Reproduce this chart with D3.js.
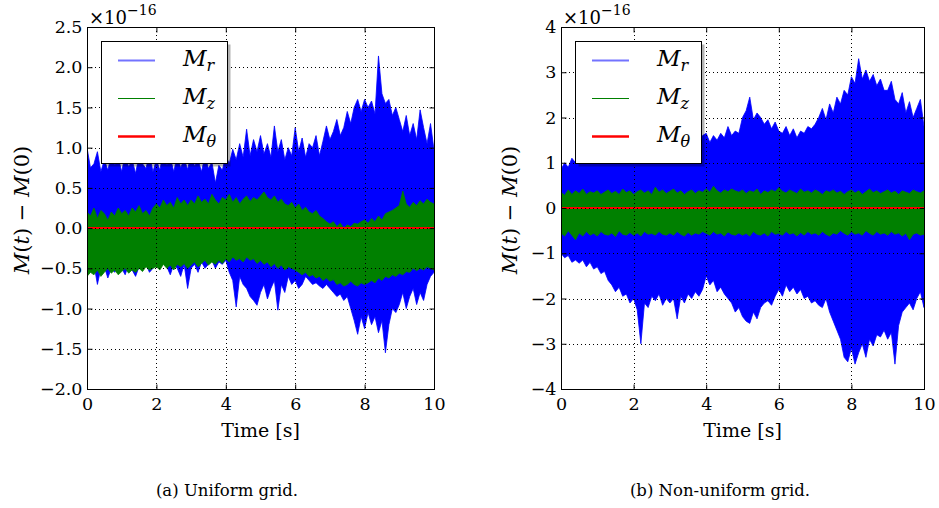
<!DOCTYPE html>
<html>
<head>
<meta charset="utf-8">
<script src="https://cdn.jsdelivr.net/npm/d3@7"></script>
<style>
  body { margin: 0; background: #fff; }
  svg { display: block; }
  text { font-family: "DejaVu Serif", serif; fill: #000; }
</style>
</head>
<body>
<div id="chart"></div>
<script>
// sampling instants (s), every 0.1 s
const times = d3.range(101).map(i => i / 10);

// (a) uniform grid -- envelopes, units of 1e-16
const mrHiA = [1.0,0.75,0.8,0.95,0.7,0.85,0.72,0.9,0.78,0.88,
  0.7,0.92,0.76,0.85,0.68,0.9,0.8,0.74,0.93,0.7,
  0.85,0.72,0.95,0.78,0.88,0.7,0.9,0.75,0.86,0.73,
  0.92,0.77,0.85,0.7,0.9,0.74,0.82,0.56,0.78,0.72,
  0.9,0.8,0.98,0.85,1.05,0.88,1.23,0.9,1.1,0.95,
  1.15,0.92,1.05,0.88,1.27,0.95,1.1,0.85,1.0,0.9,
  1.25,0.95,1.12,0.88,1.05,1.0,1.15,0.9,1.08,1.27,
  1.1,1.2,1.35,1.15,1.25,1.45,1.3,1.5,1.6,1.45,
  1.6,1.5,1.58,1.42,2.14,1.67,1.55,1.6,1.4,1.5,
  1.35,1.2,1.4,1.15,1.3,1.1,1.47,1.25,1.05,1.3,
  0.97];
const mrLoA = [-0.5,-0.55,-0.45,-0.7,-0.5,-0.48,-0.62,-0.5,-0.55,-0.45,
  -0.5,-0.58,-0.45,-0.52,-0.6,-0.48,-0.5,-0.45,-0.55,-0.5,
  -0.45,-0.5,-0.4,-0.48,-0.58,-0.45,-0.5,-0.6,-0.45,-0.75,
  -0.5,-0.45,-0.55,-0.42,-0.5,-0.45,-0.4,-0.5,-0.42,-0.45,
  -0.4,-0.55,-0.65,-0.98,-0.6,-0.7,-0.75,-0.85,-0.9,-0.96,
  -0.8,-0.7,-0.88,-0.75,-0.65,-1.02,-0.7,-0.8,-0.6,-0.7,
  -0.65,-0.75,-0.7,-0.6,-0.65,-0.7,-0.68,-0.72,-0.75,-0.7,
  -0.75,-0.8,-0.85,-0.82,-0.9,-0.85,-1.0,-1.15,-1.32,-1.1,
  -1.25,-1.05,-1.2,-1.1,-1.3,-1.15,-1.55,-1.2,-1.0,-1.05,
  -0.95,-0.8,-1.0,-0.85,-0.75,-0.95,-0.8,-0.9,-0.7,-0.6,
  -0.55];
const mzHiA = [0.2,0.15,0.25,0.12,0.22,0.18,0.1,0.2,0.15,0.25,
  0.18,0.22,0.15,0.25,0.2,0.28,0.18,0.22,0.15,0.25,
  0.3,0.25,0.35,0.28,0.32,0.25,0.38,0.3,0.35,0.28,
  0.35,0.3,0.4,0.32,0.36,0.3,0.42,0.35,0.3,0.38,
  0.35,0.42,0.32,0.38,0.3,0.36,0.4,0.33,0.38,0.35,
  0.4,0.45,0.38,0.35,0.4,0.32,0.36,0.3,0.28,0.32,
  0.25,0.3,0.22,0.26,0.2,0.18,0.22,0.15,0.12,0.08,
  0.05,0.08,0.02,0.06,0.0,0.04,0.02,0.06,0.05,0.08,
  0.1,0.06,0.12,0.08,0.15,0.1,0.18,0.2,0.22,0.25,
  0.28,0.46,0.3,0.26,0.32,0.28,0.34,0.3,0.36,0.32,
  0.3];
const mzLoA = [-0.6,-0.55,-0.58,-0.52,-0.6,-0.55,-0.5,-0.56,-0.52,-0.58,
  -0.54,-0.5,-0.56,-0.52,-0.55,-0.5,-0.54,-0.48,-0.52,-0.5,
  -0.48,-0.52,-0.45,-0.5,-0.46,-0.52,-0.45,-0.48,-0.44,-0.5,
  -0.46,-0.42,-0.48,-0.44,-0.4,-0.46,-0.42,-0.45,-0.4,-0.44,
  -0.38,-0.42,-0.36,-0.4,-0.38,-0.42,-0.36,-0.4,-0.38,-0.44,
  -0.4,-0.45,-0.42,-0.48,-0.44,-0.5,-0.46,-0.52,-0.48,-0.5,
  -0.52,-0.55,-0.58,-0.55,-0.6,-0.58,-0.62,-0.6,-0.65,-0.62,
  -0.66,-0.64,-0.7,-0.68,-0.72,-0.7,-0.66,-0.7,-0.72,-0.68,
  -0.7,-0.68,-0.65,-0.68,-0.62,-0.65,-0.6,-0.62,-0.58,-0.6,
  -0.56,-0.58,-0.54,-0.55,-0.5,-0.53,-0.5,-0.52,-0.48,-0.5,
  -0.52];

// (b) non-uniform grid
const mrHiB = [0.85,1.0,0.9,1.1,1.0,1.15,1.05,1.2,1.1,1.25,
  1.15,1.3,1.2,1.35,1.25,1.4,1.3,1.45,1.35,1.4,
  1.3,1.45,1.35,1.5,1.4,1.45,1.35,1.5,1.4,1.55,
  1.45,1.4,1.55,1.45,1.5,1.4,1.55,1.45,1.5,1.6,
  1.65,1.45,1.6,1.5,1.65,1.55,1.8,1.6,1.7,1.65,
  2.0,2.15,2.45,1.95,2.1,2.0,1.85,1.95,1.75,1.9,
  1.7,1.65,1.8,1.6,1.75,1.55,1.7,1.65,1.8,1.75,
  1.85,2.0,2.2,1.95,2.3,2.1,2.45,2.3,2.6,2.5,
  2.9,2.75,3.3,2.85,3.05,2.8,2.95,2.7,2.85,2.6,
  2.6,2.8,2.4,2.3,2.55,2.1,2.35,2.0,2.2,2.4,
  1.8];
const mrLoB = [-1.0,-1.1,-1.05,-1.2,-1.15,-1.22,-1.15,-1.3,-1.2,-1.35,
  -1.3,-1.45,-1.4,-1.6,-1.7,-1.85,-1.75,-1.95,-1.9,-2.1,
  -2.0,-2.25,-3.0,-2.1,-2.2,-1.95,-2.05,-1.9,-2.15,-2.0,
  -2.1,-2.0,-2.45,-1.95,-2.1,-1.9,-2.0,-1.85,-1.95,-1.8,
  -1.5,-1.7,-1.6,-1.85,-1.75,-1.9,-2.0,-2.1,-2.3,-2.2,
  -2.4,-2.5,-2.55,-2.3,-2.45,-2.2,-2.1,-2.05,-2.15,-1.95,
  -1.8,-1.95,-1.7,-1.85,-1.75,-1.9,-1.8,-2.0,-1.95,-2.1,
  -2.05,-2.15,-2.2,-2.0,-2.3,-2.5,-2.7,-2.9,-3.3,-3.4,
  -3.1,-3.45,-3.2,-3.0,-3.3,-2.9,-3.05,-2.8,-2.85,-2.7,
  -2.9,-2.75,-3.45,-2.6,-2.3,-2.2,-2.1,-2.25,-2.0,-1.85,
  -2.2];
const mzHiB = [0.35,0.28,0.4,0.3,0.38,0.32,0.42,0.3,0.36,0.33,
  0.38,0.3,0.35,0.4,0.32,0.37,0.3,0.42,0.34,0.38,
  0.3,0.36,0.4,0.33,0.38,0.3,0.46,0.35,0.4,0.32,
  0.37,0.42,0.33,0.38,0.3,0.36,0.4,0.32,0.38,0.35,
  0.42,0.35,0.48,0.38,0.33,0.4,0.36,0.42,0.38,0.35,
  0.4,0.32,0.38,0.35,0.42,0.3,0.38,0.34,0.4,0.36,
  0.45,0.37,0.33,0.4,0.36,0.32,0.42,0.35,0.38,0.33,
  0.4,0.36,0.3,0.38,0.35,0.4,0.33,0.37,0.3,0.36,
  0.4,0.33,0.38,0.3,0.36,0.42,0.34,0.38,0.32,0.36,
  0.4,0.33,0.37,0.3,0.38,0.35,0.32,0.4,0.36,0.33,
  0.38];
const mzLoB = [-0.55,-0.62,-0.5,-0.6,-0.7,-0.55,-0.62,-0.52,-0.6,-0.56,
  -0.62,-0.52,-0.58,-0.6,-0.55,-0.63,-0.5,-0.58,-0.6,-0.54,
  -0.6,-0.55,-0.62,-0.52,-0.58,-0.56,-0.6,-0.52,-0.58,-0.6,
  -0.55,-0.6,-0.52,-0.58,-0.62,-0.54,-0.6,-0.55,-0.58,-0.52,
  -0.56,-0.6,-0.52,-0.58,-0.55,-0.62,-0.53,-0.58,-0.6,-0.55,
  -0.6,-0.56,-0.62,-0.52,-0.58,-0.6,-0.55,-0.62,-0.52,-0.58,
  -0.56,-0.6,-0.52,-0.58,-0.55,-0.62,-0.54,-0.6,-0.52,-0.58,
  -0.55,-0.6,-0.52,-0.58,-0.62,-0.55,-0.58,-0.5,-0.56,-0.6,
  -0.52,-0.58,-0.55,-0.6,-0.5,-0.56,-0.6,-0.52,-0.58,-0.55,
  -0.6,-0.52,-0.58,-0.55,-0.62,-0.56,-0.7,-0.58,-0.55,-0.6,
  -0.58];

// M_theta stays at zero in both runs
const thetaTimes = [0, 10];
const thetaVals = [0, 0];

const xTicks = [0, 2, 4, 6, 8, 10];
const yTicksA = [-2.0, -1.5, -1.0, -0.5, 0.0, 0.5, 1.0, 1.5, 2.0, 2.5];
const yTicksB = [-4, -3, -2, -1, 0, 1, 2, 3, 4];
const legendNames = [["M", "r"], ["M", "z"], ["M", "\u03b8"]];
const legendColors = ["rgba(0,0,255,0.55)", "#008000", "#ff0000"];
const legendWidths = [2, 1, 2.5];

const width = 939, height = 508;
const plotTop = 27, plotBottom = 389;

const svg = d3.select("#chart").append("svg")
    .attr("width", width)
    .attr("height", height);

const panels = [
  { id: "a", left: 87, right: 434, domain: [-2, 2.5], ticks: yTicksA, fmt: d3.format(".1f"),
    mrHi: mrHiA, mrLo: mrLoA, mzHi: mzHiA, mzLo: mzLoA,
    caption: "(a) Uniform grid.", captionX: 227, ylabelX: 29 },
  { id: "b", left: 561, right: 924, domain: [-4, 4], ticks: yTicksB, fmt: d3.format("d"),
    mrHi: mrHiB, mrLo: mrLoB, mzHi: mzHiB, mzLo: mzLoB,
    caption: "(b) Non-uniform grid.", captionX: 720, ylabelX: 517 }
];

panels.forEach(p => {
  const x = d3.scaleLinear().domain([0, 10]).range([p.left, p.right]);
  const y = d3.scaleLinear().domain(p.domain).range([plotBottom, plotTop]);
  const g = svg.append("g");

  g.append("clipPath").attr("id", "clip-" + p.id)
    .append("rect")
    .attr("x", p.left).attr("y", plotTop)
    .attr("width", p.right - p.left).attr("height", plotBottom - plotTop);

  const data = g.append("g").attr("clip-path", `url(#clip-${p.id})`);

  const band = (hi, lo) => d3.area()
      .x((d, i) => x(times[i]))
      .y0((d, i) => y(lo[i]))
      .y1((d, i) => y(hi[i]))(times);

  // M_r
  data.append("path")
    .attr("d", band(p.mrHi, p.mrLo))
    .attr("fill", "#0000ff")
    .attr("stroke", "#0000ff")
    .attr("stroke-width", 0.8);

  // M_z
  data.append("path")
    .attr("d", band(p.mzHi, p.mzLo))
    .attr("fill", "#008000")
    .attr("stroke", "#008000")
    .attr("stroke-width", 0.8);

  // M_theta
  data.append("path")
    .attr("d", d3.line().x((d, i) => x(thetaTimes[i])).y(d => y(d))(thetaVals))
    .attr("fill", "none")
    .attr("stroke", "#ff0000")
    .attr("stroke-width", 2);

  // dotted grid over the data
  const grid = g.append("g")
    .attr("stroke", "#000")
    .attr("stroke-width", 1)
    .attr("stroke-dasharray", "1,3");
  grid.selectAll(".gx").data(xTicks.slice(1, -1)).join("line")
    .attr("x1", d => Math.round(x(d)) + 0.5).attr("x2", d => Math.round(x(d)) + 0.5)
    .attr("y1", plotTop).attr("y2", plotBottom);
  grid.selectAll(".gy").data(p.ticks.slice(1, -1)).join("line")
    .attr("x1", p.left).attr("x2", p.right)
    .attr("y1", d => Math.round(y(d)) + 0.5).attr("y2", d => Math.round(y(d)) + 0.5);

  // axes with inward ticks on all sides
  const axL = g.append("g").attr("transform", `translate(${p.left + 0.5},0)`)
    .call(d3.axisLeft(y).tickValues(p.ticks).tickFormat(p.fmt).tickSize(-5).tickPadding(5));
  const axR = g.append("g").attr("transform", `translate(${p.right + 0.5},0)`)
    .call(d3.axisRight(y).tickValues(p.ticks).tickFormat("").tickSize(-5));
  const axB = g.append("g").attr("transform", `translate(0,${plotBottom + 0.5})`)
    .call(d3.axisBottom(x).tickValues(xTicks).tickSize(-5).tickPadding(8));
  const axT = g.append("g").attr("transform", `translate(0,${plotTop + 0.5})`)
    .call(d3.axisTop(x).tickValues(xTicks).tickFormat("").tickSize(-5));
  [axL, axR, axB, axT].forEach(a => {
    a.select(".domain").remove();
    a.selectAll("text").style("font-family", "DejaVu Serif").style("font-size", "17.5px");
  });

  g.append("rect")
    .attr("x", p.left + 0.5).attr("y", plotTop + 0.5)
    .attr("width", p.right - p.left).attr("height", plotBottom - plotTop)
    .attr("fill", "none").attr("stroke", "#000").attr("stroke-width", 1);

  // offset exponent
  const mult = g.append("text")
    .attr("x", p.left + 2).attr("y", 24)
    .style("font-size", "18px");
  mult.append("tspan").text("\u00d710");
  mult.append("tspan").attr("dy", -9).style("font-size", "14px").text("\u221216");

  // axis titles
  g.append("text")
    .attr("x", (p.left + p.right) / 2).attr("y", 437)
    .attr("text-anchor", "middle")
    .style("font-size", "19px")
    .text("Time [s]");

  const yl = g.append("text")
    .attr("transform", `translate(${p.ylabelX},210) rotate(-90)`)
    .attr("text-anchor", "middle")
    .style("font-size", "21px");
  yl.append("tspan").style("font-style", "italic").text("M");
  yl.append("tspan").text("(");
  yl.append("tspan").style("font-style", "italic").text("t");
  yl.append("tspan").text(") \u2212 ");
  yl.append("tspan").style("font-style", "italic").text("M");
  yl.append("tspan").text("(0)");

  // legend
  const lx = p.left + 14.5, ly = 41.5, lw = 126, lh = 122;
  g.append("rect")
    .attr("x", lx + 3).attr("y", ly + 3).attr("width", lw).attr("height", lh)
    .attr("fill", "#000").attr("fill-opacity", 0.3);
  g.append("rect")
    .attr("x", lx).attr("y", ly).attr("width", lw).attr("height", lh)
    .attr("fill", "#fff").attr("stroke", "#000").attr("stroke-width", 1);
  legendNames.forEach((n, i) => {
    const yy = 60 + i * 38;
    g.append("line")
      .attr("x1", p.left + 31).attr("x2", p.left + 68)
      .attr("y1", yy + 0.5).attr("y2", yy + 0.5)
      .attr("stroke", legendColors[i]).attr("stroke-width", legendWidths[i]);
    const t = g.append("text")
      .attr("x", p.left + 96).attr("y", yy + 6)
      .style("font-size", "23px").style("font-style", "italic");
    t.append("tspan").text(n[0]);
    t.append("tspan").attr("dy", 5).style("font-size", "16px").text(n[1]);
  });

  svg.append("text")
    .attr("x", p.captionX).attr("y", 496)
    .attr("text-anchor", "middle")
    .style("font-size", "16.5px")
    .text(p.caption);
});
</script>
</body>
</html>
